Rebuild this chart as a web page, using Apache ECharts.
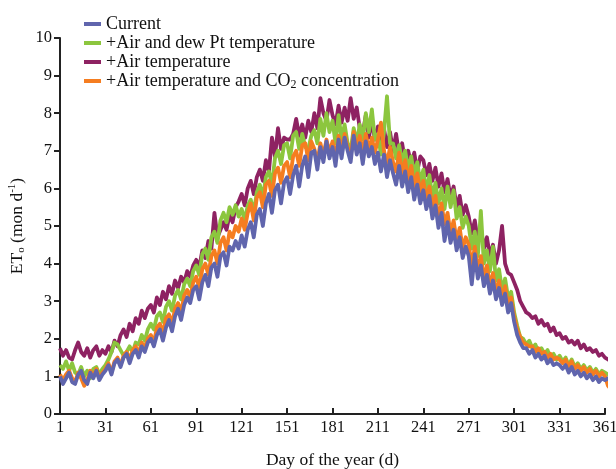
<!DOCTYPE html>
<html>
<head>
<meta charset="utf-8">
<script src="https://cdn.jsdelivr.net/npm/echarts@6/dist/echarts.min.js"></script>
<style>
html,body{margin:0;padding:0;background:#fff;}
#chart{width:616px;height:469px;}
</style>
</head>
<body>
<div id="chart"></div>
<script>
// Day of the year (every second day)
const days = [1,3,5,7,9,11,13,15,17,19,21,23,25,27,29,
31,33,35,37,39,41,43,45,47,49,51,53,55,57,59,
61,63,65,67,69,71,73,75,77,79,81,83,85,87,89,
91,93,95,97,99,101,103,105,107,109,111,113,115,117,119,
121,123,125,127,129,131,133,135,137,139,141,143,145,147,149,
151,153,155,157,159,161,163,165,167,169,171,173,175,177,179,
181,183,185,187,189,191,193,195,197,199,201,203,205,207,209,
211,213,215,217,219,221,223,225,227,229,231,233,235,237,239,
241,243,245,247,249,251,253,255,257,259,261,263,265,267,269,
271,273,275,277,279,281,283,285,287,289,291,293,295,297,299,
301,303,305,307,309,311,313,315,317,319,321,323,325,327,329,
331,333,335,337,339,341,343,345,347,349,351,353,355,357,359,
361,363,365];

const xTickLabels = [1,31,61,91,121,151,181,211,241,271,301,331,361];
const yTickLabels = [0,1,2,3,4,5,6,7,8,9,10];

const current = [1.0,0.8,0.95,1.1,0.85,0.8,1.05,1.15,0.9,0.8,1.1,0.95,1.15,0.9,1.05,
1.15,1.3,1.05,1.35,1.45,1.25,1.5,1.6,1.35,1.6,1.7,1.5,1.8,1.65,1.9,
2.0,1.8,2.1,2.25,1.95,2.3,2.5,2.2,2.6,2.8,2.5,2.9,3.1,2.95,3.3,
3.4,3.05,3.5,3.7,3.4,3.9,4.0,3.65,4.2,4.3,3.95,4.45,4.35,4.6,4.4,
4.75,4.45,4.9,5.1,4.7,5.3,5.45,5.0,5.6,5.85,5.35,5.95,6.1,5.6,6.15,
6.3,5.85,6.35,6.6,6.05,6.6,6.85,6.3,6.95,7.0,6.5,7.1,6.7,7.25,6.8,
7.1,6.6,7.3,6.8,7.35,7.0,6.7,7.4,6.9,7.2,6.65,7.25,6.85,7.1,6.65,
6.95,6.45,6.9,6.3,6.75,6.4,6.1,6.6,6.05,6.45,5.9,6.3,5.7,6.1,5.6,
5.95,5.45,5.8,5.2,5.55,4.95,5.35,4.6,5.1,4.55,4.9,4.35,4.7,4.15,4.45,
4.2,3.45,4.25,3.6,3.95,3.4,3.7,3.2,3.55,3.05,3.35,2.9,3.2,2.7,2.95,
2.45,2.1,1.9,1.75,1.75,1.6,1.7,1.5,1.6,1.45,1.55,1.35,1.45,1.3,1.35,
1.3,1.2,1.3,1.1,1.25,1.05,1.15,1.0,1.1,0.95,1.05,0.9,1.0,0.85,0.95,
0.9,0.95,0.85];

const airDew = [1.3,1.2,1.4,1.15,1.35,1.1,1.05,1.25,1.0,1.15,0.95,1.2,1.25,1.05,1.2,
1.3,1.45,1.65,1.9,1.85,1.7,1.55,1.65,1.8,1.65,1.9,1.85,2.1,1.95,2.25,
2.4,2.25,2.6,2.7,2.45,2.85,3.0,2.75,3.15,3.3,3.05,3.45,3.6,3.4,3.8,
3.95,3.7,4.25,4.4,4.1,4.7,4.85,4.55,5.15,5.35,5.1,5.5,5.3,5.55,5.25,
5.45,5.15,5.55,5.7,5.35,5.9,6.1,5.75,6.3,6.45,6.1,6.8,7.0,6.65,7.15,
7.2,6.8,7.4,7.5,7.05,7.45,7.1,7.05,7.4,7.55,7.2,7.85,7.4,8.0,7.5,
7.8,7.2,7.95,7.3,7.7,7.2,7.0,7.6,7.2,7.7,7.3,8.0,7.5,8.1,7.3,
7.45,6.9,7.5,8.45,7.2,7.2,6.8,7.15,6.7,7.0,6.5,6.85,6.35,6.7,6.15,
6.5,5.9,6.35,5.75,6.15,5.6,6.0,5.45,6.05,5.5,5.95,5.2,5.5,4.95,5.25,
5.0,4.4,4.85,4.2,5.4,4.0,4.35,3.8,4.45,3.55,3.85,3.3,3.6,3.1,3.25,
2.7,2.35,2.05,2.0,1.85,1.95,1.75,1.85,1.65,1.75,1.6,1.7,1.5,1.6,1.45,
1.55,1.4,1.5,1.3,1.45,1.25,1.35,1.2,1.3,1.15,1.25,1.1,1.2,1.05,1.15,
1.1,1.05,1.0];

const airTemp = [1.75,1.55,1.7,1.5,1.45,1.7,1.9,1.65,1.55,1.75,1.5,1.7,1.8,1.55,1.7,
1.6,1.8,1.65,1.95,1.8,2.1,2.25,2.05,2.4,2.2,2.55,2.4,2.75,2.55,2.8,
2.9,2.7,3.1,2.9,3.25,3.05,3.4,3.2,3.55,3.35,3.65,3.5,3.8,3.65,3.95,
4.1,3.9,4.35,4.15,4.6,4.4,5.35,4.7,4.9,5.1,4.9,5.3,5.1,5.5,5.65,
5.85,5.55,6.0,6.2,5.85,6.3,6.5,6.2,6.75,6.45,7.35,6.85,7.6,7.05,7.35,
7.3,7.3,7.45,7.85,7.4,7.7,7.35,7.8,7.5,8.0,7.6,8.4,8.0,7.8,8.35,
7.95,7.7,8.2,7.75,8.15,7.8,8.4,7.85,8.15,7.6,7.45,7.95,7.35,7.8,7.3,
7.65,7.2,7.6,7.1,7.5,7.0,7.45,6.9,7.2,6.7,7.0,6.65,6.95,6.45,6.85,
6.75,6.35,6.65,6.2,6.55,6.05,6.4,5.9,6.25,5.75,6.05,5.5,5.8,5.3,5.55,
5.25,4.8,5.15,4.6,4.95,4.4,4.7,4.2,4.5,4.0,4.35,5.0,4.0,3.75,3.7,
3.5,3.3,3.0,2.85,2.7,2.65,2.55,2.6,2.4,2.5,2.35,2.4,2.2,2.3,2.1,
2.15,2.0,2.05,1.9,1.95,1.85,1.95,1.75,1.85,1.7,1.75,1.65,1.7,1.55,1.6,
1.5,1.45,1.4];

const airCO2 = [1.05,0.9,1.05,1.15,0.95,0.85,1.1,0.95,0.75,0.9,1.15,1.0,1.2,0.95,1.1,
1.2,1.35,1.1,1.4,1.5,1.3,1.55,1.65,1.45,1.7,1.8,1.6,1.9,1.75,2.0,
2.1,1.9,2.3,2.4,2.15,2.55,2.65,2.4,2.8,2.95,2.7,3.15,3.3,3.1,3.5,
3.65,3.35,3.85,4.0,3.7,4.2,4.35,4.0,4.55,4.7,4.35,4.85,4.7,5.0,4.85,
5.2,4.9,5.35,5.6,5.15,5.75,5.9,5.5,6.1,6.2,5.8,6.4,6.55,6.15,6.6,
6.7,6.3,6.85,7.0,6.6,7.15,7.2,6.75,7.25,7.05,6.7,7.2,6.85,7.3,6.95,
7.25,6.8,7.4,7.0,7.45,7.1,6.85,7.5,7.05,7.4,6.9,7.45,7.0,7.35,6.95,
7.3,7.75,7.0,6.65,7.1,6.7,6.45,6.95,6.4,6.75,6.2,6.6,6.05,6.4,5.9,
6.2,5.7,6.05,5.45,5.8,5.2,5.6,5.05,5.35,4.8,5.15,4.6,4.95,4.4,4.7,
4.5,3.95,4.45,3.8,4.2,3.6,3.95,3.4,3.75,3.2,3.55,3.05,3.4,2.9,3.1,
2.6,2.25,2.05,1.9,1.85,1.8,1.8,1.65,1.75,1.6,1.65,1.5,1.6,1.45,1.5,
1.45,1.35,1.45,1.25,1.4,1.2,1.3,1.15,1.25,1.1,1.2,1.05,1.15,1.0,1.1,
1.0,0.75,0.65];

const names = ['Current','+Air and dew Pt temperature','+Air temperature','+Air temperature and CO2 concentration'];
const colors = ['#6065ad','#8cc63e','#8e2262','#f57d20'];

function pairs(vals){ return days.map((d,i)=>[d, vals[i]]); }

const font = '"Liberation Serif","Times New Roman",serif';
const chart = echarts.init(document.getElementById('chart'), null, {renderer:'canvas'});

function mkSeries(name, vals, color){
  return {
    name: name, type: 'line', data: pairs(vals), showSymbol: false, symbol: 'none',
    clip: false, lineStyle: {color: color, width: 3.8, join: 'round'}, itemStyle: {color: color},
    emphasis: {disabled: true}
  };
}

chart.setOption({
  animation: false,
  backgroundColor: '#fff',
  textStyle: {fontFamily: font},
  grid: {left: 60, right: 11, top: 38, bottom: 55, containLabel: false, outerBoundsMode: 'none'},
  legend: {
    data: names,
    orient: 'vertical',
    left: 84, top: 15,
    padding: 0,
    itemGap: 1,
    itemWidth: 17, itemHeight: 4,
    icon: 'rect',
    textStyle: {
      fontFamily: font, fontSize: 18, color: '#111',
      rich: {
        n: {fontFamily: font, fontSize: 18, color: '#111'},
        sub: {fontFamily: font, fontSize: 12, color: '#111', padding: [8,0,0,0]}
      }
    },
    formatter: function(n){
      if (n.indexOf('CO2') >= 0) {
        const p = n.split('CO2');
        return '{n|' + p[0] + 'CO}{sub|2}{n|' + p[1] + '}';
      }
      return n;
    }
  },
  xAxis: {
    type: 'value', min: 1, max: 361,
    name: 'Day of the year (d)', nameLocation: 'middle', nameGap: 37, nameMoveOverlap: false,
    nameTextStyle: {fontFamily: font, fontSize: 17.5, color: '#111'},
    axisLine: {show: true, lineStyle: {color: '#222', width: 2}},
    axisTick: {show: true, inside: true, length: 6, lineStyle: {color: '#222', width: 2}, customValues: xTickLabels},
    axisLabel: {fontFamily: font, fontSize: 16.5, color: '#111', margin: 5, customValues: xTickLabels},
    splitLine: {show: false}
  },
  yAxis: {
    type: 'value', min: 0, max: 10, interval: 1,
    name: 'ET{sub|o} (mon d{sup|-1})', nameLocation: 'middle', nameGap: 33, nameMoveOverlap: false,
    nameTextStyle: {
      fontFamily: font, fontSize: 17.5, color: '#111',
      rich: {
        sub: {fontFamily: font, fontSize: 11, color: '#111', padding: [9,0,0,0]},
        sup: {fontFamily: font, fontSize: 11, color: '#111', padding: [0,0,9,0]}
      }
    },
    axisLine: {show: true, lineStyle: {color: '#222', width: 2}},
    axisTick: {show: true, inside: false, length: 6, lineStyle: {color: '#222', width: 2}},
    axisLabel: {fontFamily: font, fontSize: 16.5, color: '#111', margin: 8,
      formatter: function(v){ return yTickLabels.indexOf(v) >= 0 ? String(v) : ''; }},
    splitLine: {show: false}
  },
  series: [
    mkSeries(names[2], airTemp, colors[2]),
    mkSeries(names[1], airDew, colors[1]),
    mkSeries(names[3], airCO2, colors[3]),
    mkSeries(names[0], current, colors[0])
  ]
});
</script>
</body>
</html>
